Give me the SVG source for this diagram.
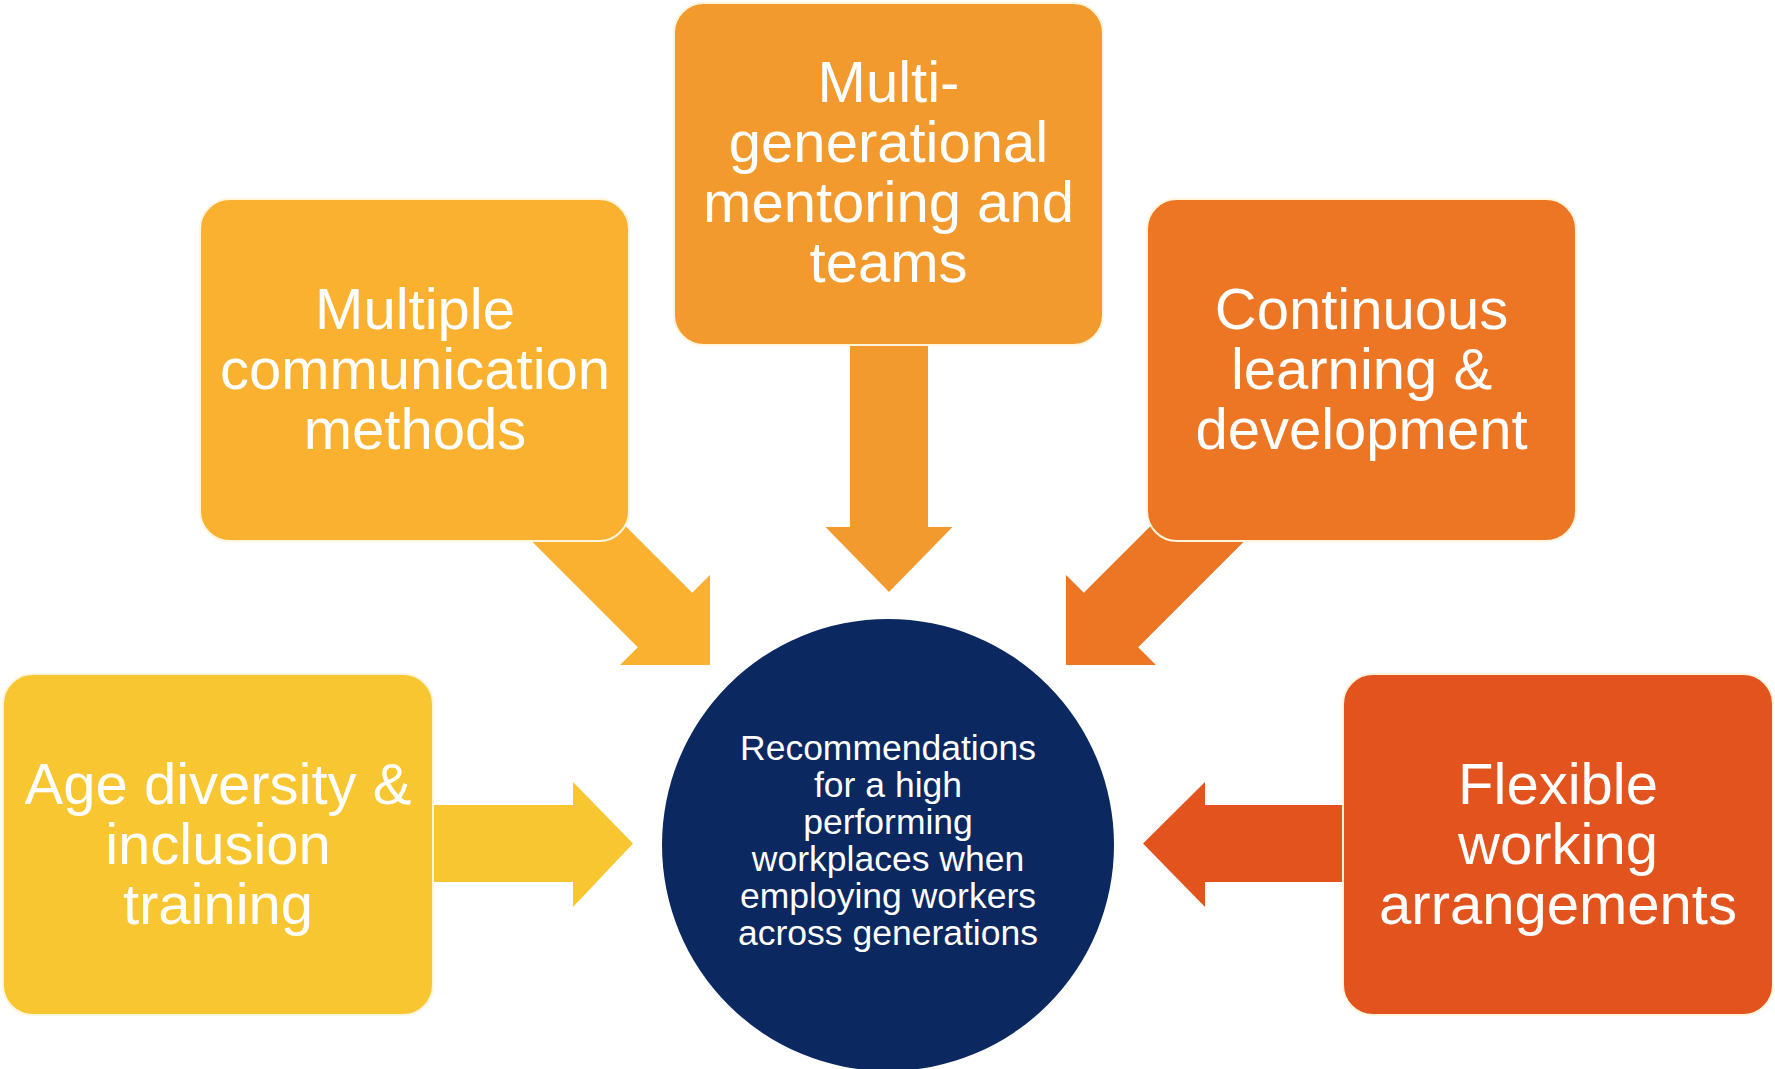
<svg xmlns="http://www.w3.org/2000/svg" width="1775" height="1069" viewBox="0 0 1775 1069">
<style>
.box{stroke:#FFF4DC;stroke-width:2}
.lbl{font-family:"Liberation Sans",Arial,sans-serif;font-size:58px;fill:#FFFFFF;text-anchor:middle}
.ctr{font-family:"Liberation Sans",Arial,sans-serif;font-size:35.5px;fill:#FFFFFF;text-anchor:middle}
</style>
<rect x="0" y="0" width="1775" height="1069" fill="#FFFFFF"/>
<g id="connectors">
<polygon points="425,805 573,805 573,782 633,843.5 573,907 573,882 425,882" fill="#F7C630"/>
<polygon points="572.2,472.8 692.2,592.8 710,575 710,665 620,665 637.8,647.2 517.8,527.2" fill="#FAB12F"/>
<polygon points="850,335 928,335 928,527 952.5,527 889,592 825.5,527 850,527" fill="#F29A2E"/>
<polygon points="1203.8,472.8 1083.8,592.8 1066,575 1066,665 1156,665 1138.2,647.2 1258.2,527.2" fill="#EC7623"/>
<polygon points="1355,805 1205,805 1205,782 1143,843.5 1205,907 1205,882 1355,882" fill="#E2531E"/>
</g>
<g id="node-age">
<rect class="box" x="3" y="674" width="430" height="341" rx="30" fill="#F7C630"/>
<text class="lbl" x="218" y="804">Age diversity &amp;</text>
<text class="lbl" x="218" y="864">inclusion</text>
<text class="lbl" x="218" y="924">training</text>
</g>
<g id="node-communication">
<rect class="box" x="200" y="199" width="429" height="342" rx="30" fill="#FAB12F"/>
<text class="lbl" x="415" y="329">Multiple</text>
<text class="lbl" x="415" y="389">communication</text>
<text class="lbl" x="415" y="449">methods</text>
</g>
<g id="node-mentoring">
<rect class="box" x="674" y="3" width="429" height="342" rx="30" fill="#F29A2E"/>
<text class="lbl" x="888.5" y="102">Multi-</text>
<text class="lbl" x="888.5" y="162">generational</text>
<text class="lbl" x="888.5" y="222">mentoring and</text>
<text class="lbl" x="888.5" y="282">teams</text>
</g>
<g id="node-learning">
<rect class="box" x="1147" y="199" width="429" height="342" rx="30" fill="#EC7623"/>
<text class="lbl" x="1361.5" y="329">Continuous</text>
<text class="lbl" x="1361.5" y="389">learning &amp;</text>
<text class="lbl" x="1361.5" y="449">development</text>
</g>
<g id="node-flexible">
<rect class="box" x="1343" y="674" width="430" height="341" rx="30" fill="#E2531E"/>
<text class="lbl" x="1558" y="804">Flexible</text>
<text class="lbl" x="1558" y="864">working</text>
<text class="lbl" x="1558" y="924">arrangements</text>
</g>
<g id="node-center">
<circle cx="888" cy="845" r="226" fill="#0C2860"/>
<text class="ctr" x="888" y="760">Recommendations</text>
<text class="ctr" x="888" y="797">for a high</text>
<text class="ctr" x="888" y="834">performing</text>
<text class="ctr" x="888" y="871">workplaces when</text>
<text class="ctr" x="888" y="908">employing workers</text>
<text class="ctr" x="888" y="945">across generations</text>
</g>
</svg>
